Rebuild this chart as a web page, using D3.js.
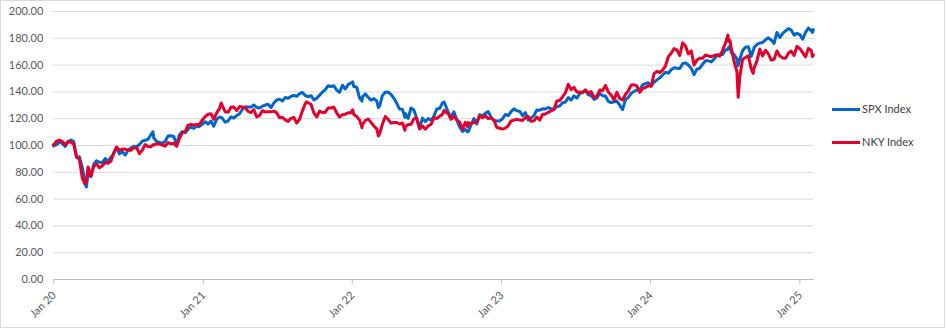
<!DOCTYPE html>
<html>
<head>
<meta charset="utf-8">
<script src="https://cdn.jsdelivr.net/npm/d3@7"></script>
<style>
  html, body { margin: 0; padding: 0; background: #fff; }
  svg { display: block; font-family: Lato, "Open Sans", sans-serif; }
</style>
</head>
<body>
<svg id="chart" width="946" height="329"></svg>
<script>
// Weekly observation dates (plus a few notable intraweek closes)
const dates = [
  "2020-01-02","2020-01-03","2020-01-10","2020-01-17","2020-01-24","2020-01-31","2020-02-07","2020-02-14","2020-02-21","2020-02-28",
  "2020-03-06","2020-03-13","2020-03-19","2020-03-20","2020-03-23","2020-03-27","2020-04-03","2020-04-10","2020-04-17","2020-04-24",
  "2020-05-01","2020-05-08","2020-05-15","2020-05-22","2020-05-29","2020-06-05","2020-06-12","2020-06-19","2020-06-26","2020-07-03",
  "2020-07-10","2020-07-17","2020-07-24","2020-07-31","2020-08-07","2020-08-14","2020-08-21","2020-08-28","2020-09-02","2020-09-04",
  "2020-09-11","2020-09-18","2020-09-25","2020-10-02","2020-10-09","2020-10-16","2020-10-23","2020-10-30","2020-11-06","2020-11-13",
  "2020-11-20","2020-11-27","2020-12-04","2020-12-11","2020-12-18","2020-12-24","2020-12-31",
  "2021-01-08","2021-01-15","2021-01-22","2021-01-29","2021-02-05","2021-02-12","2021-02-16","2021-02-19","2021-02-26","2021-03-05",
  "2021-03-12","2021-03-19","2021-03-26","2021-04-02","2021-04-09","2021-04-16","2021-04-23","2021-04-30","2021-05-07","2021-05-14",
  "2021-05-21","2021-05-28","2021-06-04","2021-06-11","2021-06-18","2021-06-25","2021-07-02","2021-07-09","2021-07-16","2021-07-23",
  "2021-07-30","2021-08-06","2021-08-13","2021-08-20","2021-08-27","2021-09-03","2021-09-10","2021-09-14","2021-09-17","2021-09-24",
  "2021-10-01","2021-10-08","2021-10-15","2021-10-22","2021-10-29","2021-11-05","2021-11-12","2021-11-19","2021-11-26","2021-12-03",
  "2021-12-10","2021-12-17","2021-12-24","2021-12-31",
  "2022-01-04","2022-01-07","2022-01-14","2022-01-21","2022-01-27","2022-01-28","2022-02-04","2022-02-11","2022-02-18","2022-02-25",
  "2022-03-04","2022-03-08","2022-03-11","2022-03-18","2022-03-25","2022-04-01","2022-04-08","2022-04-15","2022-04-22","2022-04-29",
  "2022-05-06","2022-05-12","2022-05-13","2022-05-20","2022-05-27","2022-06-03","2022-06-10","2022-06-16","2022-06-17","2022-06-24",
  "2022-07-01","2022-07-08","2022-07-15","2022-07-22","2022-07-29","2022-08-05","2022-08-12","2022-08-16","2022-08-19","2022-08-26",
  "2022-09-02","2022-09-09","2022-09-16","2022-09-23","2022-09-30","2022-10-07","2022-10-12","2022-10-14","2022-10-21","2022-10-28",
  "2022-11-04","2022-11-11","2022-11-18","2022-11-25","2022-12-02","2022-12-09","2022-12-16","2022-12-23","2022-12-30",
  "2023-01-06","2023-01-13","2023-01-20","2023-01-27","2023-02-03","2023-02-10","2023-02-17","2023-02-24","2023-03-03","2023-03-10",
  "2023-03-17","2023-03-24","2023-03-31","2023-04-07","2023-04-14","2023-04-21","2023-04-28","2023-05-05","2023-05-12","2023-05-19",
  "2023-05-26","2023-06-02","2023-06-09","2023-06-16","2023-06-23","2023-06-30","2023-07-07","2023-07-14","2023-07-21","2023-07-28",
  "2023-08-04","2023-08-11","2023-08-18","2023-08-25","2023-09-01","2023-09-08","2023-09-15","2023-09-22","2023-09-29","2023-10-06",
  "2023-10-13","2023-10-20","2023-10-27","2023-11-03","2023-11-10","2023-11-17","2023-11-24","2023-12-01","2023-12-08","2023-12-15",
  "2023-12-22","2023-12-29",
  "2024-01-05","2024-01-12","2024-01-19","2024-01-26","2024-02-02","2024-02-09","2024-02-16","2024-02-23","2024-03-01","2024-03-08",
  "2024-03-15","2024-03-22","2024-03-29","2024-04-05","2024-04-12","2024-04-19","2024-04-26","2024-05-03","2024-05-10","2024-05-17",
  "2024-05-24","2024-05-31","2024-06-07","2024-06-14","2024-06-21","2024-06-28","2024-07-05","2024-07-11","2024-07-12","2024-07-16",
  "2024-07-19","2024-07-26","2024-08-02","2024-08-05","2024-08-09","2024-08-16","2024-08-23","2024-08-30","2024-09-06","2024-09-11",
  "2024-09-13","2024-09-20","2024-09-27","2024-10-04","2024-10-11","2024-10-18","2024-10-25","2024-11-01","2024-11-08","2024-11-15",
  "2024-11-22","2024-11-29","2024-12-06","2024-12-13","2024-12-20","2024-12-27",
  "2025-01-03","2025-01-10","2025-01-17","2025-01-24","2025-01-31","2025-02-03","2025-02-05"
];

// S&P 500, rebased to 100
const spxIndex = [
  100.0, 99.3,100.2,102.2,101.2, 99.0,102.1,103.8,102.5, 90.7,
   91.2, 83.2, 73.9, 70.7, 68.7, 78.0, 76.4, 85.6, 88.2, 87.1,
   86.9, 89.9, 87.9, 90.7, 93.4, 98.0, 93.4, 95.1, 92.4, 96.1,
   97.8, 99.0, 98.7,100.4,102.9,103.5,104.3,107.7,109.9,105.2,
  102.6,101.9,101.2,102.8,106.7,106.9,106.4,100.4,107.7,110.0,
  109.2,111.7,113.5,112.4,113.9,113.7,115.3,
  117.4,115.7,117.9,114.0,119.3,120.8,120.7,119.9,117.0,117.9,
  121.0,120.1,122.0,123.4,126.7,128.5,128.3,128.3,129.9,128.1,
  127.6,129.0,129.8,130.4,127.9,131.4,133.6,134.1,132.8,135.4,
  134.9,136.2,137.1,136.3,138.4,139.2,136.9,136.4,136.1,136.8,
  133.7,134.8,137.2,139.5,141.4,144.2,143.7,144.2,141.0,139.3,
  144.6,141.8,145.1,146.3,
  147.1,143.6,143.1,135.0,132.8,136.0,138.1,135.6,133.5,134.6,
  132.9,128.0,129.0,137.0,139.4,139.5,137.8,134.8,131.1,126.8,
  126.6,120.6,123.5,119.8,127.6,126.1,119.7,112.6,112.8,120.1,
  117.4,119.7,118.6,121.6,126.8,127.2,131.4,132.1,129.8,124.5,
  120.5,124.8,118.9,113.4,110.1,111.7,109.8,110.0,115.2,119.7,
  115.7,122.6,121.7,123.6,125.0,120.8,118.2,118.0,117.9,
  119.6,122.8,121.9,124.9,127.0,125.6,125.2,121.9,124.2,118.5,
  120.2,121.9,126.1,126.0,127.0,126.9,128.0,127.0,126.6,128.7,
  129.1,131.5,132.0,135.4,133.5,136.6,135.0,138.3,139.2,140.7,
  137.5,137.0,134.1,135.2,138.6,136.8,136.6,132.6,131.6,132.3,
  132.8,129.7,126.4,133.8,135.5,138.6,139.9,141.0,141.3,144.9,
  145.9,146.4,
  144.2,146.8,148.6,150.1,152.2,154.3,153.6,156.2,157.7,157.3,
  157.1,160.7,161.3,159.7,157.3,152.5,156.5,157.4,160.3,162.8,
  162.8,162.0,164.1,166.7,167.7,167.6,170.9,171.4,172.4,174.0,
  169.0,167.6,164.1,159.2,164.0,170.5,173.0,173.4,166.0,170.5,
  172.7,175.0,176.1,176.5,178.5,180.0,178.3,175.8,184.0,180.2,
  183.2,185.2,186.9,185.7,182.0,183.3,
  182.4,178.9,184.1,187.3,185.4,184.0,186.1
];

// Nikkei 225, rebased to 100
const nkyIndex = [
  100.0,100.0,102.8,103.6,102.7,100.0,102.7,102.1,100.8, 91.1,
   89.4, 75.1, 71.3, 71.3, 72.8, 83.6, 76.8, 84.0, 85.7, 83.0,
   84.5, 87.0, 86.4, 87.9, 94.3, 98.5, 96.1, 96.9, 97.0, 96.1,
   96.1, 97.8, 98.0, 93.6, 96.2,100.4, 98.8, 98.6,100.2,100.0,
  100.9,100.7,100.0, 99.2,101.8,100.9,101.3, 99.0,104.8,109.4,
  110.0,114.8,115.3,114.9,115.3,114.9,118.3,
  121.3,122.9,123.4,119.2,124.0,127.2,131.3,129.4,124.8,124.4,
  128.1,128.4,125.7,128.7,128.3,127.9,125.1,124.2,126.5,121.0,
  122.0,125.6,124.7,124.8,124.8,125.3,124.0,120.4,120.7,118.7,
  117.6,119.9,120.6,116.4,119.1,125.5,130.9,132.2,131.4,130.4,
  124.0,120.9,125.3,124.1,124.5,127.6,127.6,128.2,123.9,120.8,
  122.6,123.0,124.0,124.1,
  126.3,122.7,121.2,118.6,112.8,115.1,118.3,119.4,116.9,114.1,
  112.0,106.8,108.4,115.6,121.3,119.2,116.3,116.8,116.8,115.7,
  116.4,111.0,113.9,115.2,115.4,119.6,119.9,113.9,111.9,114.2,
  111.8,114.3,115.4,120.3,119.8,121.4,123.0,125.9,124.7,123.4,
  119.2,121.6,118.8,117.0,111.8,116.9,113.8,116.7,115.9,116.8,
  117.2,121.8,120.2,121.9,119.7,120.2,118.6,113.1,112.5,
  111.9,112.6,114.4,118.0,118.6,119.2,118.6,118.3,120.4,121.3,
  117.8,118.0,120.8,118.6,122.8,123.1,124.4,125.5,126.6,132.8,
  133.2,135.9,139.0,145.3,141.3,143.0,139.6,139.6,139.2,141.2,
  138.7,139.9,135.5,136.3,141.0,140.5,144.5,139.6,137.3,133.6,
  139.3,134.7,133.6,137.7,140.4,144.7,144.9,144.1,139.2,142.1,
  142.9,144.2,
  143.8,153.3,155.0,154.1,155.8,159.0,165.9,168.5,172.0,171.0,
  166.8,176.2,174.0,168.0,170.3,159.7,163.5,164.8,164.7,167.2,
  166.5,165.9,166.7,167.3,166.3,170.6,176.3,182.0,177.5,177.9,
  172.6,162.3,154.8,135.6,150.9,164.0,165.3,166.6,156.8,153.5,
  157.6,162.6,171.6,166.5,170.7,168.0,163.4,164.0,170.2,166.5,
  165.0,164.7,168.5,170.1,166.8,173.6,
  171.9,168.9,165.7,172.1,170.5,166.0,167.3
];

const seriesNames = ["SPX Index", "NKY Index"];
const seriesColors = ["#0066cc", "#e4002b"];

const yTicks = [0, 20, 40, 60, 80, 100, 120, 140, 160, 180, 200];
const xTickDates = ["2020-01-02","2021-01-02","2022-01-02","2023-01-02","2024-01-02","2025-01-02"];
const xTickLabels = ["Jan 20","Jan 21","Jan 22","Jan 23","Jan 24","Jan 25"];

const parse = d3.timeParse("%Y-%m-%d");
const W = 946, H = 329;
const plot = { left: 53.3, right: 813.3, top: 11, bottom: 279 };

const svg = d3.select("#chart");

svg.append("rect")
  .attr("x", 0.5).attr("y", 0.5)
  .attr("width", W - 2).attr("height", H - 2)
  .attr("fill", "#fff").attr("stroke", "#d9d9d9");

const x = d3.scaleTime()
  .domain([parse(dates[0]), parse(dates[dates.length - 1])])
  .range([plot.left, plot.right]);

const y = d3.scaleLinear()
  .domain([0, 200])
  .range([plot.bottom, plot.top]);

// value axis with horizontal gridlines
const yAxis = svg.append("g")
  .attr("transform", `translate(${plot.left},0)`)
  .call(d3.axisLeft(y)
    .tickValues(yTicks)
    .tickSize(-(plot.right - plot.left))
    .tickPadding(10)
    .tickFormat(d3.format(".2f")));
yAxis.select(".domain").remove();
yAxis.selectAll(".tick line").attr("stroke", "#d9d9d9").attr("stroke-width", 1);
yAxis.selectAll(".tick text")
  .attr("fill", "#595959")
  .style("font-size", "11px")
  .style("font-family", "Lato, 'Open Sans', sans-serif");

// date axis
const xAxis = svg.append("g")
  .attr("transform", `translate(0,${plot.bottom})`)
  .call(d3.axisBottom(x)
    .tickValues(xTickDates.map(parse))
    .tickSizeInner(5)
    .tickSizeOuter(0)
    .tickFormat((d, i) => xTickLabels[i]));
xAxis.select(".domain").attr("stroke", "#bfbfbf");
xAxis.selectAll(".tick line").attr("stroke", "#bfbfbf");
xAxis.selectAll(".tick text")
  .attr("fill", "#595959")
  .style("font-size", "11px")
  .style("font-family", "Lato, 'Open Sans', sans-serif")
  .attr("text-anchor", "end")
  .attr("dy", null)
  .attr("y", 0)
  .attr("transform", "translate(3,17) rotate(-45)");

// series lines
const series = [spxIndex, nkyIndex].map((vals, k) => ({
  name: seriesNames[k],
  color: seriesColors[k],
  points: dates.map((d, i) => ({ date: parse(d), value: vals[i] }))
}));

const line = d3.line()
  .x(d => x(d.date))
  .y(d => y(d.value));

svg.append("g").selectAll("path")
  .data(series)
  .join("path")
  .attr("d", s => line(s.points))
  .attr("fill", "none")
  .attr("stroke", s => s.color)
  .attr("stroke-width", 3)
  .attr("stroke-linejoin", "round")
  .attr("stroke-linecap", "round");

// legend
const legend = svg.append("g")
  .selectAll("g")
  .data(series)
  .join("g")
  .attr("transform", (s, i) => `translate(832,${109.5 + i * 33})`);
legend.append("line")
  .attr("x1", 0).attr("x2", 28)
  .attr("stroke", s => s.color)
  .attr("stroke-width", 3);
legend.append("text")
  .attr("x", 30).attr("dy", "0.35em")
  .attr("fill", "#404040")
  .style("font-size", "11px")
  .text(s => s.name);
</script>
</body>
</html>
